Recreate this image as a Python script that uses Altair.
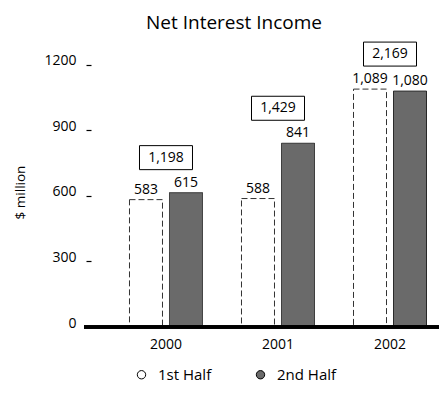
import altair as alt
import pandas as pd

years = ["2000", "2001", "2002"]
first_half = [583, 588, 1089]
second_half = [615, 841, 1080]
totals = [1198, 1429, 2169]
halves = ["1st Half", "2nd Half"]

rows = []
for i, yr in enumerate(years):
    rows.append({"year": yr, "half": halves[0], "value": first_half[i]})
    rows.append({"year": yr, "half": halves[1], "value": second_half[i]})
bars_df = pd.DataFrame(rows)

tot_df = pd.DataFrame({
    "year": years,
    "top": [max(a, b) for a, b in zip(first_half, second_half)],
    "total": totals,
})

FONT = "Open Sans"
W, H = 348, 284

x_enc = alt.X("year:N", sort=years,
              scale=alt.Scale(range=[0, 374], paddingInner=0, paddingOuter=0.1696),
              axis=alt.Axis(title=None, labelAngle=0, domain=False, ticks=False, grid=False,
                            labelFontSize=14, labelFont=FONT, labelColor="black",
                            labelPadding=10))
y_enc = alt.Y("value:Q", scale=alt.Scale(domain=[0, 1300], nice=False),
              axis=alt.Axis(title="$ million", values=[0, 300, 600, 900, 1200], format="d",
                            grid=False, domain=False, tickSize=5, tickColor="black",
                            tickWidth=1.2, labelPadding=10, labelBaseline="alphabetic",
                            labelFontSize=14, labelFont=FONT, labelColor="black",
                            titleFont=FONT, titleFontSize=13.5, titleFontWeight="normal",
                            titleColor="black", titleAngle=-90, titleAlign="center",
                            titleBaseline="middle", titleX=-71, titleY=149))
xoff = alt.XOffset("half:N", sort=halves,
                   scale=alt.Scale(paddingInner=0.175, paddingOuter=0.4875))

is_first = alt.datum.half == halves[0]

bars = alt.Chart(bars_df).mark_bar(strokeWidth=1).encode(
    x=x_enc,
    xOffset=xoff,
    y=y_enc,
    fill=alt.Fill("half:N", sort=halves,
                  scale=alt.Scale(domain=halves, range=["#ffffff", "#6a6a6a"]),
                  legend=alt.Legend(title=None, orient="none", legendX=43, legendY=324,
                                    direction="horizontal", symbolType="circle",
                                    symbolSize=70, symbolStrokeColor="black",
                                    symbolStrokeWidth=1,
                                    labelFontSize=15, labelFont=FONT,
                                    labelColor="black", labelOffset=9, columnPadding=41,
                                    padding=0)),
    stroke=alt.condition(is_first, alt.value("#333333"), alt.value("#222222")),
    strokeDash=alt.condition(is_first, alt.value([6, 3]), alt.value([1, 0])),
)

labels = alt.Chart(bars_df).mark_text(baseline="alphabetic", dy=-6, fontSize=14,
                                      font=FONT, color="black").encode(
    x=alt.X("year:N", sort=years),
    xOffset=alt.XOffset("half:N", sort=halves),
    y="value:Q",
    text=alt.Text("value:Q", format=","),
)

box = alt.Chart(tot_df).mark_point(
    shape="M-1,-1.774H1V-0.868H-1Z", size=2809, filled=False,
    stroke="black", strokeWidth=1, opacity=1,
).encode(x=alt.X("year:N", sort=years), y=alt.Y("top:Q"))

tot_text = alt.Chart(tot_df).mark_text(baseline="middle", dy=-35, fontSize=14,
                                       font=FONT, color="black").encode(
    x=alt.X("year:N", sort=years),
    y=alt.Y("top:Q"),
    text=alt.Text("total:Q", format=","),
)

baseline = alt.Chart(tot_df).mark_rule(strokeWidth=3.5, color="black").encode(
    x=alt.value(-7), x2=alt.value(W), y=alt.value(H)
)

chart = alt.layer(bars, labels, box, tot_text, baseline).properties(
    width=W, height=H,
    background="white",
    title=alt.TitleParams("Net Interest Income", font=FONT, fontSize=19,
                          fontWeight="normal", color="black", anchor="middle",
                          dx=-31, offset=7),
    autosize=alt.AutoSizeParams(type="none"),
    padding={"left": 83, "top": 35, "right": 0, "bottom": 57},
).configure_view(strokeWidth=0, stroke="transparent").configure_axis(
    grid=False, domain=False
)

chart.save("out.html", embed_options={"renderer": "svg", "actions": False})
